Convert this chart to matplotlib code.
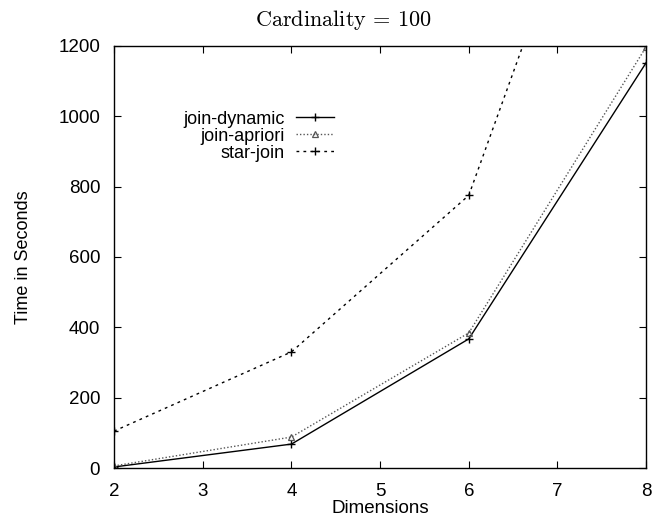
import numpy as np
import matplotlib
matplotlib.use('Agg')
import matplotlib.pyplot as plt

plt.rcParams['font.family'] = ['Liberation Sans', 'DejaVu Sans']
plt.rcParams['mathtext.fontset'] = 'cm'

dims = [2, 4, 6, 8]
join_dynamic = [3, 68, 367, 1152]
join_apriori = [6, 88, 384, 1197]
star_join = [105, 330, 775, 2170]

fig = plt.figure(figsize=(6.52, 5.18), dpi=100)
ax = fig.add_axes([0.175, 0.0965, 0.816, 0.815])

ax.plot(dims, join_dynamic, color='black', lw=1.0, marker='+', ms=6, mew=1.0,
        label='join-dynamic')
ax.plot(dims, join_apriori, color='#555555', lw=1.0, ls=(0, (1, 1.5)), marker='^',
        ms=5, mfc='none', mew=0.9, label='join-apriori')
ax.plot(dims, star_join, color='black', lw=1.0, ls=(0, (2, 3)), marker='+', ms=6,
        mew=1.0, label='star-join')

ax.set_xlim(2, 8)
ax.set_ylim(0, 1200)
ax.set_xticks(range(2, 9))
ax.set_yticks(range(0, 1201, 200))
ax.tick_params(direction='in', top=True, right=True, length=5, labelsize=13.5)
ax.tick_params(axis='y', pad=10)
ax.tick_params(axis='x', pad=11)
for s in ax.spines.values():
    s.set_linewidth(1.0)

ax.set_xlabel('Dimensions', fontsize=13.5, labelpad=0)
ax.set_ylabel('Time in Seconds', fontsize=13, labelpad=19)
fig.text(343 / 652, 1 - 20 / 518, r'$\mathrm{Cardinality}\,=\,100$', fontsize=16,
         ha='center', va='center')

leg = ax.legend(loc='upper left', bbox_to_anchor=(0.1, 0.885), frameon=False,
                markerfirst=False, fontsize=13, handlelength=2.1, handletextpad=0.6,
                labelspacing=0.0)
for t in leg.get_texts():
    t.set_ha('right')
    t.set_position((0, 0))
leg._legend_box.align = 'right'

fig.savefig('out.png', dpi=100)
